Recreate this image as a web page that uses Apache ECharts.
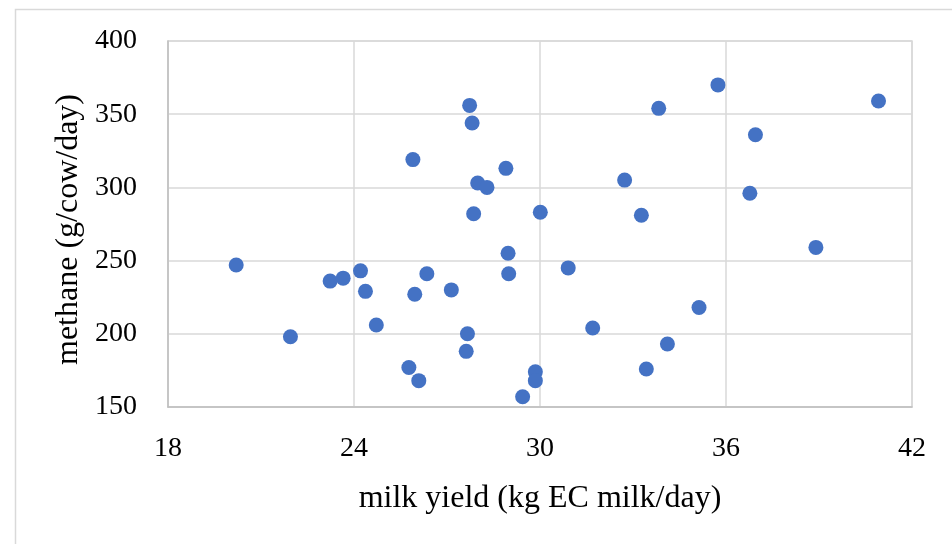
<!DOCTYPE html>
<html>
<head>
<meta charset="utf-8">
<script src="https://cdn.jsdelivr.net/npm/echarts@6/dist/echarts.min.js"></script>
<style>html,body{margin:0;padding:0;background:#fff}#c{width:952px;height:544px}</style>
</head>
<body>
<div id="c"></div>
<script>
// milk yield (kg EC milk/day)
var milkYield = [20.20, 21.95, 23.23, 23.65, 24.21, 24.37, 24.72, 25.90, 25.96, 26.35,
  25.77, 26.09, 27.14, 27.73, 27.81, 27.99, 28.29, 27.86, 28.90, 28.97,
  28.99, 27.66, 27.62, 29.44, 29.85, 29.85, 30.01, 30.91, 31.70, 32.73,
  33.27, 33.83, 33.43, 34.11, 35.13, 35.74, 36.95, 36.77, 38.90, 40.92];
// methane (g/cow/day)
var methane = [247, 198, 236, 238, 243, 229, 206, 319, 227, 241,
  177, 168, 230, 356, 344, 303, 300, 282, 313, 255,
  241, 200, 188, 157, 174, 168, 283, 245, 204, 305,
  281, 354, 176, 193, 218, 370, 336, 296, 259, 359];
var xTicks = [18, 24, 30, 36, 42];
var yTicks = [150, 200, 250, 300, 350, 400];

var pts = milkYield.map(function (x, i) { return [x, methane[i]]; });
var font = '"Liberation Serif", serif';
var chart = echarts.init(document.getElementById('c'), null, {renderer: 'canvas'});
chart.setOption({
  animation: false,
  backgroundColor: '#fff',
  graphic: [{
    type: 'rect', left: 13, top: 7, shape: {width: 980, height: 580},
    style: {fill: 'none', stroke: '#D9D9D9', lineWidth: 1.5}, z: -1
  }],
  grid: {left: 168, right: 40, top: 41, bottom: 137, show: true, borderColor: '#D9D9D9', borderWidth: 1.5},
  xAxis: {
    type: 'value', min: xTicks[0], max: xTicks[xTicks.length - 1], interval: 6,
    name: 'milk yield (kg EC milk/day)', nameLocation: 'middle', nameGap: 76,
    nameTextStyle: {fontFamily: font, fontSize: 32, color: '#000'},
    axisLine: {show: true, lineStyle: {color: '#BFBFBF', width: 1.5}},
    axisTick: {show: false},
    axisLabel: {fontFamily: font, fontSize: 28, color: '#000', margin: 28},
    splitLine: {show: true, lineStyle: {color: '#D9D9D9', width: 1.5}}
  },
  yAxis: {
    type: 'value', min: yTicks[0], max: yTicks[yTicks.length - 1], interval: 50,
    name: 'methane (g/cow/day)', nameLocation: 'middle', nameGap: 80,
    nameTextStyle: {fontFamily: font, fontSize: 32, color: '#000', padding: [0, 11, 0, 0]},
    axisLine: {show: true, lineStyle: {color: '#BFBFBF', width: 1.5}},
    axisTick: {show: false},
    axisLabel: {fontFamily: font, fontSize: 28, color: '#000', margin: 31},
    splitLine: {show: true, lineStyle: {color: '#D9D9D9', width: 1.5}}
  },
  series: [{
    type: 'scatter', data: pts, symbolSize: 15,
    itemStyle: {color: '#4472C4', opacity: 1}
  }]
});
</script>
</body>
</html>
